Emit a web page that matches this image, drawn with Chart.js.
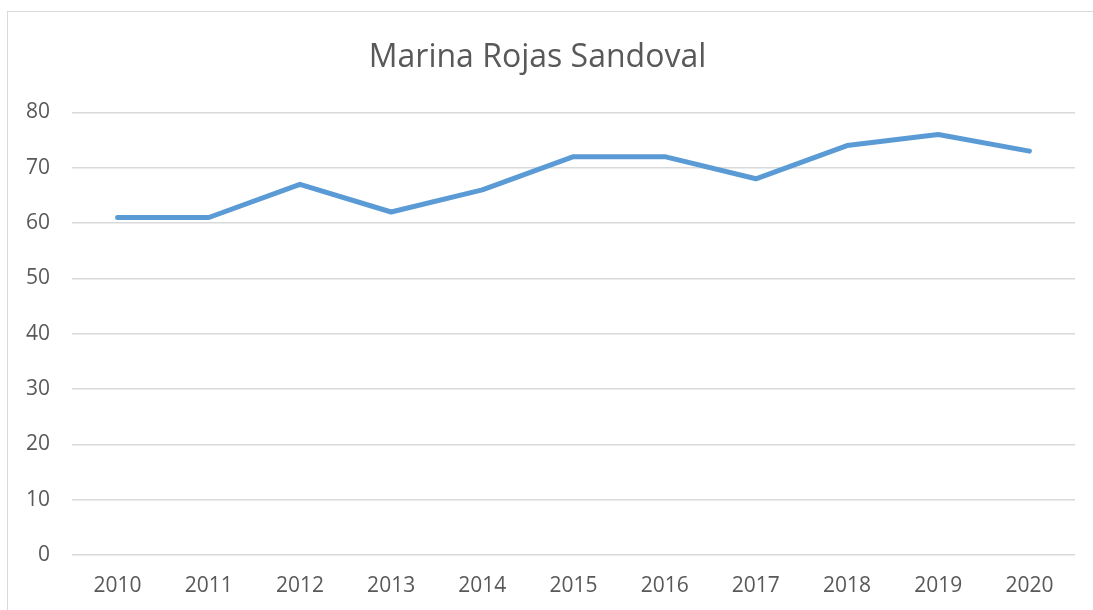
<!DOCTYPE html>
<html>
<head>
<meta charset="utf-8">
<script src="https://cdn.jsdelivr.net/npm/chart.js@4/dist/chart.umd.min.js"></script>
<style>
    body { margin: 0; background: #fff; }
    #frame { position: absolute; left: 7px; top: 11px; width: 1110px; height: 630px; border: 1px solid #d9d9d9; }
    #chart { position: absolute; left: 0; top: 0; }
</style>
</head>
<body>
<div id="frame"></div>
<canvas id="chart" width="1093" height="610"></canvas>
<script>
// Chart data
// ----------------------------------------------
const years  = ['2010', '2011', '2012', '2013', '2014', '2015', '2016', '2017', '2018', '2019', '2020'];
const values = [61, 61, 67, 62, 66, 72, 72, 68, 74, 76, 73];
const yMin = 0, yMax = 80, yStep = 10;

const textColor = '#595959';
const gridColor = '#d9d9d9';
const lineColor = '#5b9bd5';
const fontFamily = '"Open Sans", sans-serif';

new Chart(document.getElementById('chart'), {
    type: 'line',
    data: {
        labels: years,
        datasets: [{
            label: 'Marina Rojas Sandoval',
            data: values,
            borderColor: lineColor,
            backgroundColor: lineColor,
            borderWidth: 5,
            borderCapStyle: 'round',
            borderJoinStyle: 'round',
            pointRadius: 0,
            tension: 0
        }]
    },
    options: {
        responsive: false,
        animation: false,
        layout: { padding: { left: 0, right: 18, top: 0, bottom: 0 } },
        plugins: {
            legend: { display: false },
            tooltip: { enabled: false },
            title: {
                display: true,
                text: 'Marina Rojas Sandoval',
                color: textColor,
                font: { family: fontFamily, size: 32, weight: 'normal' },
                padding: { top: 39, bottom: 35 }
            }
        },
        scales: {
            x: {
                offset: true,
                grid: { display: false, drawTicks: false },
                border: { display: false },
                ticks: {
                    color: textColor,
                    font: { family: fontFamily, size: 21 },
                    padding: 18,
                    maxRotation: 0
                },
                afterFit: (s) => { s.height = 55; }
            },
            y: {
                min: yMin,
                max: yMax,
                grid: { color: gridColor, lineWidth: 1.5, drawTicks: false },
                border: { display: false },
                ticks: {
                    stepSize: yStep,
                    color: textColor,
                    font: { family: fontFamily, size: 21 },
                    padding: 22
                },
                afterFit: (s) => { s.width = 72; }
            }
        }
    }
});
</script>
</body>
</html>
